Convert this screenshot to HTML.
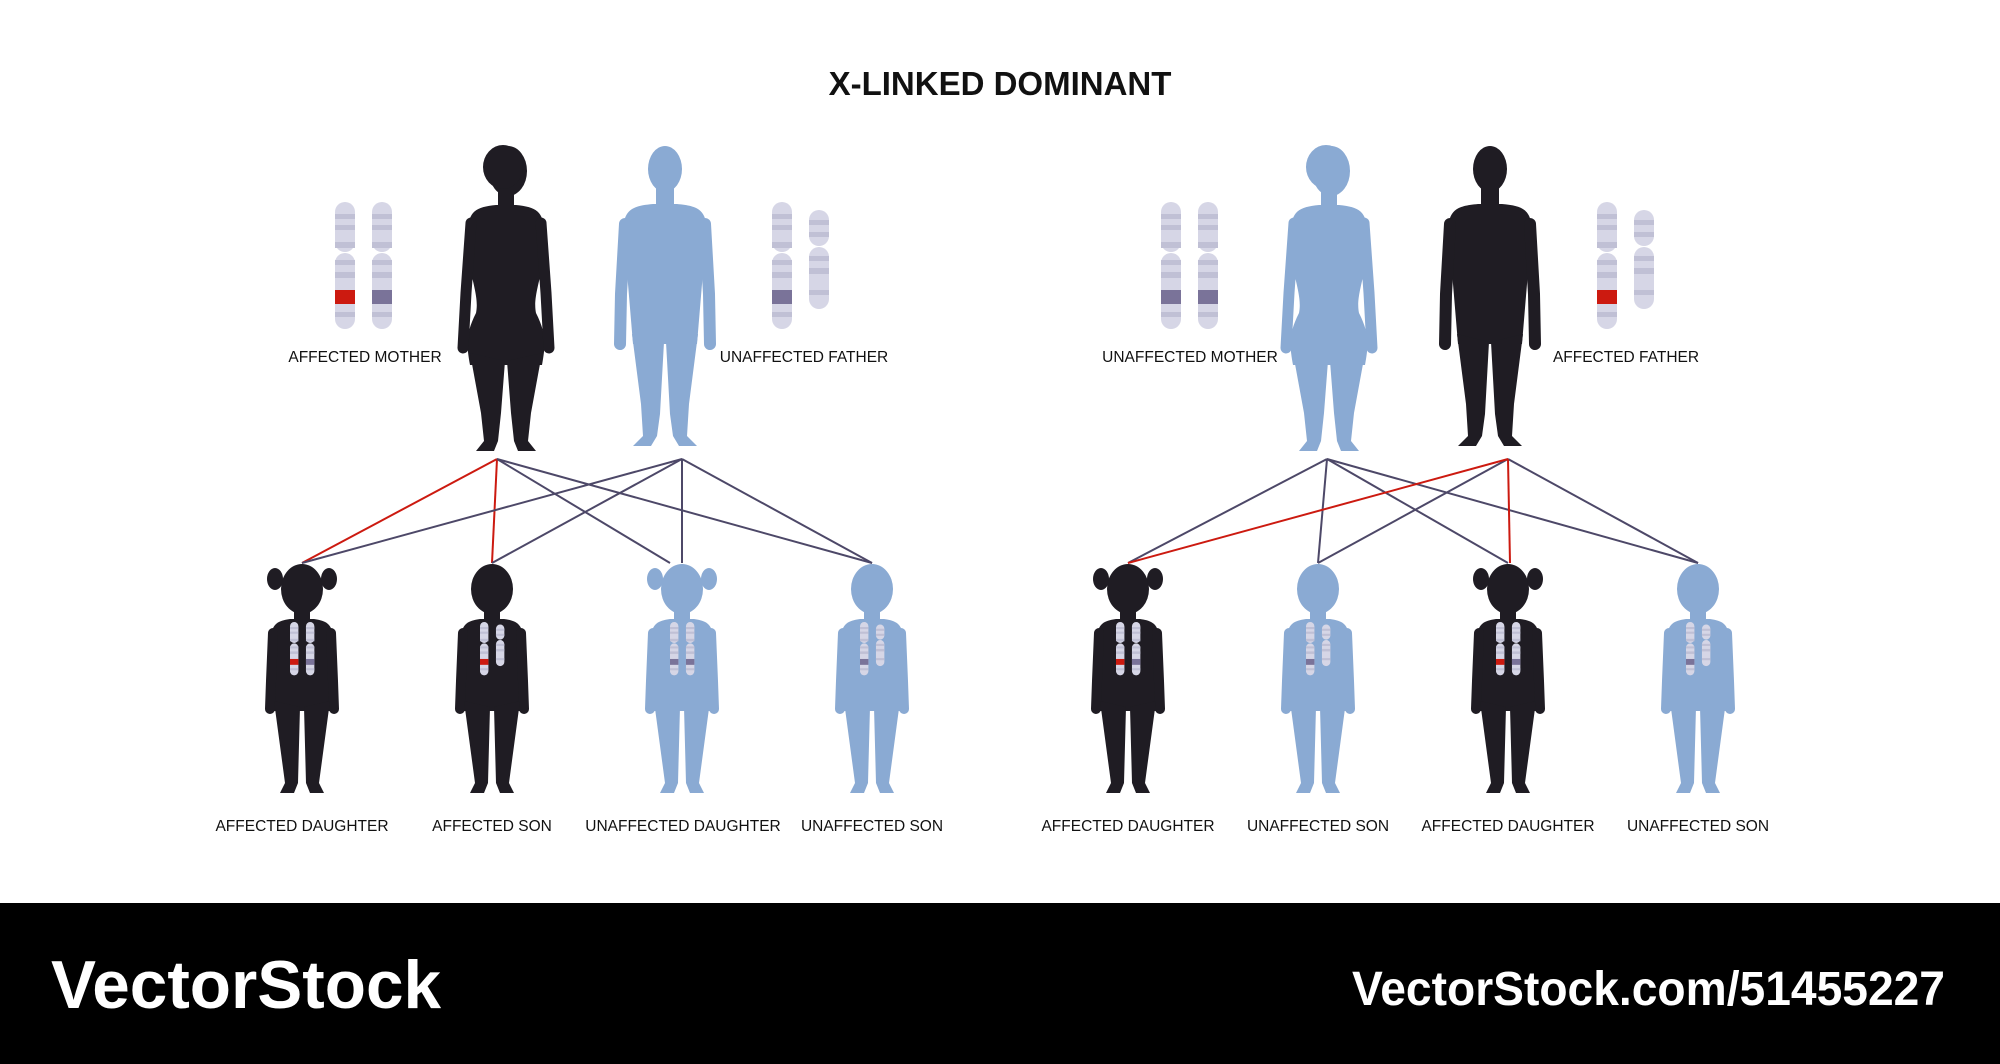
<!DOCTYPE html>
<html><head><meta charset="utf-8"><style>
html,body{margin:0;padding:0;background:#fff}
svg{display:block}
text{font-family:"Liberation Sans",sans-serif}
</style></head><body>
<svg width="2000" height="1064" viewBox="0 0 2000 1064" xmlns="http://www.w3.org/2000/svg">
<defs>
<g id="woman">
<ellipse cx="2" cy="28" rx="19" ry="25"/>
<ellipse cx="-3" cy="24" rx="20" ry="22"/>
<rect x="-8" y="46" width="16" height="20"/>
<path d="M-10,62 C-30,64 -38,68 -38,90 L-35,130 C-30,150 -28,160 -30,170 C-40,190 -40,200 -36,222 L36,222 C40,200 40,190 30,170 C28,160 30,150 35,130 L38,90 C38,68 30,64 10,62 Z"/>
<path d="M-35,80 L-40,150 L-43,205 M35,80 L40,150 L43,205" stroke="currentColor" stroke-width="11" stroke-linecap="round" stroke-linejoin="round" fill="none"/>
<path d="M-36,210 L-1,218 L-5,270 L-8,298 L-12,308 L-30,308 L-22,298 L-25,270 Z M36,210 L1,218 L5,270 L8,298 L12,308 L30,308 L22,298 L25,270 Z"/>
</g>
<g id="man">
<ellipse cx="0" cy="25" rx="17" ry="23"/>
<rect x="-9" y="44" width="18" height="20"/>
<path d="M-12,60 C-34,62 -42,66 -42,90 L-37,140 L-32,200 L32,200 L37,140 L42,90 C42,66 34,62 12,60 Z"/>
<path d="M-40,80 L-44,150 L-45,200 M40,80 L44,150 L45,200" stroke="currentColor" stroke-width="12" stroke-linecap="round" stroke-linejoin="round" fill="none"/>
<path d="M-33,190 L-1,198 L-5,270 L-8,292 L-14,302 L-32,302 L-22,292 L-24,260 Z M33,190 L1,198 L5,270 L8,292 L14,302 L32,302 L22,292 L24,260 Z"/>
</g>
<g id="child">
<ellipse cx="0" cy="28" rx="21" ry="25"/>
<rect x="-8" y="48" width="16" height="14"/>
<path d="M-12,58 C-26,60 -31,64 -31,80 L-29,150 L29,150 L31,80 C31,64 26,60 12,58 Z"/>
<path d="M-29,72 L-31,120 L-32,148 M29,72 L31,120 L32,148" stroke="currentColor" stroke-width="10" stroke-linecap="round" stroke-linejoin="round" fill="none"/>
<path d="M-28,140 L-2,146 L-4,222 L-8,232 L-22,232 L-17,222 Z M28,140 L2,146 L4,222 L8,232 L22,232 L17,222 Z"/>
</g>
<g id="pig">
<ellipse cx="-27" cy="18" rx="8" ry="11"/><ellipse cx="27" cy="18" rx="8" ry="11"/>
</g>
<g id="chrX">
<rect x="0" y="0" width="20" height="50" rx="10" fill="#d6d6e6"/>
<rect x="0" y="51" width="20" height="76" rx="10" fill="#d6d6e6"/>
<g fill="#c0c0d5"><rect y="12" width="20" height="5"/><rect y="23" width="20" height="5"/><rect y="40" width="20" height="6"/><rect y="58" width="20" height="5"/><rect y="70" width="20" height="6"/><rect y="110" width="20" height="5"/></g>
</g>
<g id="chrY">
<rect x="0" y="0" width="20" height="36" rx="10" fill="#d6d6e6"/>
<rect x="0" y="37" width="20" height="62" rx="10" fill="#d6d6e6"/>
<g fill="#c0c0d5"><rect y="10" width="20" height="5"/><rect y="22" width="20" height="5"/><rect y="46" width="20" height="5"/><rect y="58" width="20" height="6"/><rect y="80" width="20" height="5"/></g>
</g>
<g id="bandR"><rect y="88" width="20" height="14" fill="#cc1a10"/></g>
<g id="bandP"><rect y="88" width="20" height="14" fill="#7a7399"/></g>
</defs>

<text x="1000" y="95" font-size="33" font-weight="bold" text-anchor="middle" fill="#111">X-LINKED DOMINANT</text>

<g stroke-width="2" fill="none">
<g stroke="#cc1a10"><line x1="497" y1="459" x2="302" y2="563"/><line x1="497" y1="459" x2="492" y2="563"/></g>
<g stroke="#4d4868"><line x1="497" y1="459" x2="670" y2="563"/><line x1="497" y1="459" x2="872" y2="563"/>
<line x1="682" y1="459" x2="302" y2="563"/><line x1="682" y1="459" x2="492" y2="563"/><line x1="682" y1="459" x2="682" y2="563"/><line x1="682" y1="459" x2="872" y2="563"/>
<line x1="1327" y1="459" x2="1128" y2="563"/><line x1="1327" y1="459" x2="1318" y2="563"/><line x1="1327" y1="459" x2="1508" y2="563"/><line x1="1327" y1="459" x2="1698" y2="563"/>
<line x1="1508" y1="459" x2="1318" y2="563"/><line x1="1508" y1="459" x2="1698" y2="563"/></g>
<g stroke="#cc1a10"><line x1="1508" y1="459" x2="1128" y2="563"/><line x1="1508" y1="459" x2="1510" y2="563"/></g>
</g>

<use href="#woman" x="506" y="143" fill="#1f1c23" color="#1f1c23"/>
<use href="#man" x="665" y="144" fill="#8aaad3" color="#8aaad3"/>
<use href="#woman" x="1329" y="143" fill="#8aaad3" color="#8aaad3"/>
<use href="#man" x="1490" y="144" fill="#1f1c23" color="#1f1c23"/>

<use href="#chrX" x="335" y="202"/><use href="#bandR" x="335" y="202"/>
<use href="#chrX" x="372" y="202"/><use href="#bandP" x="372" y="202"/>
<use href="#chrX" x="772" y="202"/><use href="#bandP" x="772" y="202"/>
<use href="#chrY" x="809" y="210"/>
<use href="#chrX" x="1161" y="202"/><use href="#bandP" x="1161" y="202"/>
<use href="#chrX" x="1198" y="202"/><use href="#bandP" x="1198" y="202"/>
<use href="#chrX" x="1597" y="202"/><use href="#bandR" x="1597" y="202"/>
<use href="#chrY" x="1634" y="210"/>

<g>
<use href="#child" x="302" y="561" fill="#1f1c23" color="#1f1c23"/><use href="#pig" x="302" y="561" fill="#1f1c23"/>
<use href="#child" x="492" y="561" fill="#1f1c23" color="#1f1c23"/>
<use href="#child" x="682" y="561" fill="#8aaad3" color="#8aaad3"/><use href="#pig" x="682" y="561" fill="#8aaad3"/>
<use href="#child" x="872" y="561" fill="#8aaad3" color="#8aaad3"/>
<use href="#child" x="1128" y="561" fill="#1f1c23" color="#1f1c23"/><use href="#pig" x="1128" y="561" fill="#1f1c23"/>
<use href="#child" x="1318" y="561" fill="#8aaad3" color="#8aaad3"/>
<use href="#child" x="1508" y="561" fill="#1f1c23" color="#1f1c23"/><use href="#pig" x="1508" y="561" fill="#1f1c23"/>
<use href="#child" x="1698" y="561" fill="#8aaad3" color="#8aaad3"/>
</g>
<g transform="translate(290,622) scale(0.42)"><use href="#chrX"/><use href="#bandR"/><use href="#chrX" x="38"/><use href="#bandP" x="38"/></g>
<g transform="translate(480,622) scale(0.42)"><use href="#chrX"/><use href="#bandR"/><use href="#chrY" x="38" y="6"/></g>
<g transform="translate(670,622) scale(0.42)"><use href="#chrX"/><use href="#bandP"/><use href="#chrX" x="38"/><use href="#bandP" x="38"/></g>
<g transform="translate(860,622) scale(0.42)"><use href="#chrX"/><use href="#bandP"/><use href="#chrY" x="38" y="6"/></g>
<g transform="translate(1116,622) scale(0.42)"><use href="#chrX"/><use href="#bandR"/><use href="#chrX" x="38"/><use href="#bandP" x="38"/></g>
<g transform="translate(1306,622) scale(0.42)"><use href="#chrX"/><use href="#bandP"/><use href="#chrY" x="38" y="6"/></g>
<g transform="translate(1496,622) scale(0.42)"><use href="#chrX"/><use href="#bandR"/><use href="#chrX" x="38"/><use href="#bandP" x="38"/></g>
<g transform="translate(1686,622) scale(0.42)"><use href="#chrX"/><use href="#bandP"/><use href="#chrY" x="38" y="6"/></g>

<g font-size="15.5" fill="#111" text-anchor="middle">
<text x="365" y="362">AFFECTED MOTHER</text>
<text x="804" y="362">UNAFFECTED FATHER</text>
<text x="1190" y="362">UNAFFECTED MOTHER</text>
<text x="1626" y="362">AFFECTED FATHER</text>
<text x="302" y="831">AFFECTED DAUGHTER</text>
<text x="492" y="831">AFFECTED SON</text>
<text x="683" y="831">UNAFFECTED DAUGHTER</text>
<text x="872" y="831">UNAFFECTED SON</text>
<text x="1128" y="831">AFFECTED DAUGHTER</text>
<text x="1318" y="831">UNAFFECTED SON</text>
<text x="1508" y="831">AFFECTED DAUGHTER</text>
<text x="1698" y="831">UNAFFECTED SON</text>
</g>

<rect x="0" y="903" width="2000" height="161" fill="#000"/>
<text x="51" y="1008" font-size="68" font-weight="bold" fill="#fff" textLength="390" lengthAdjust="spacingAndGlyphs">VectorStock</text>
<text x="1945" y="1005" font-size="48" font-weight="bold" fill="#fff" text-anchor="end" textLength="593" lengthAdjust="spacingAndGlyphs">VectorStock.com/51455227</text>
</svg>
</body></html>
